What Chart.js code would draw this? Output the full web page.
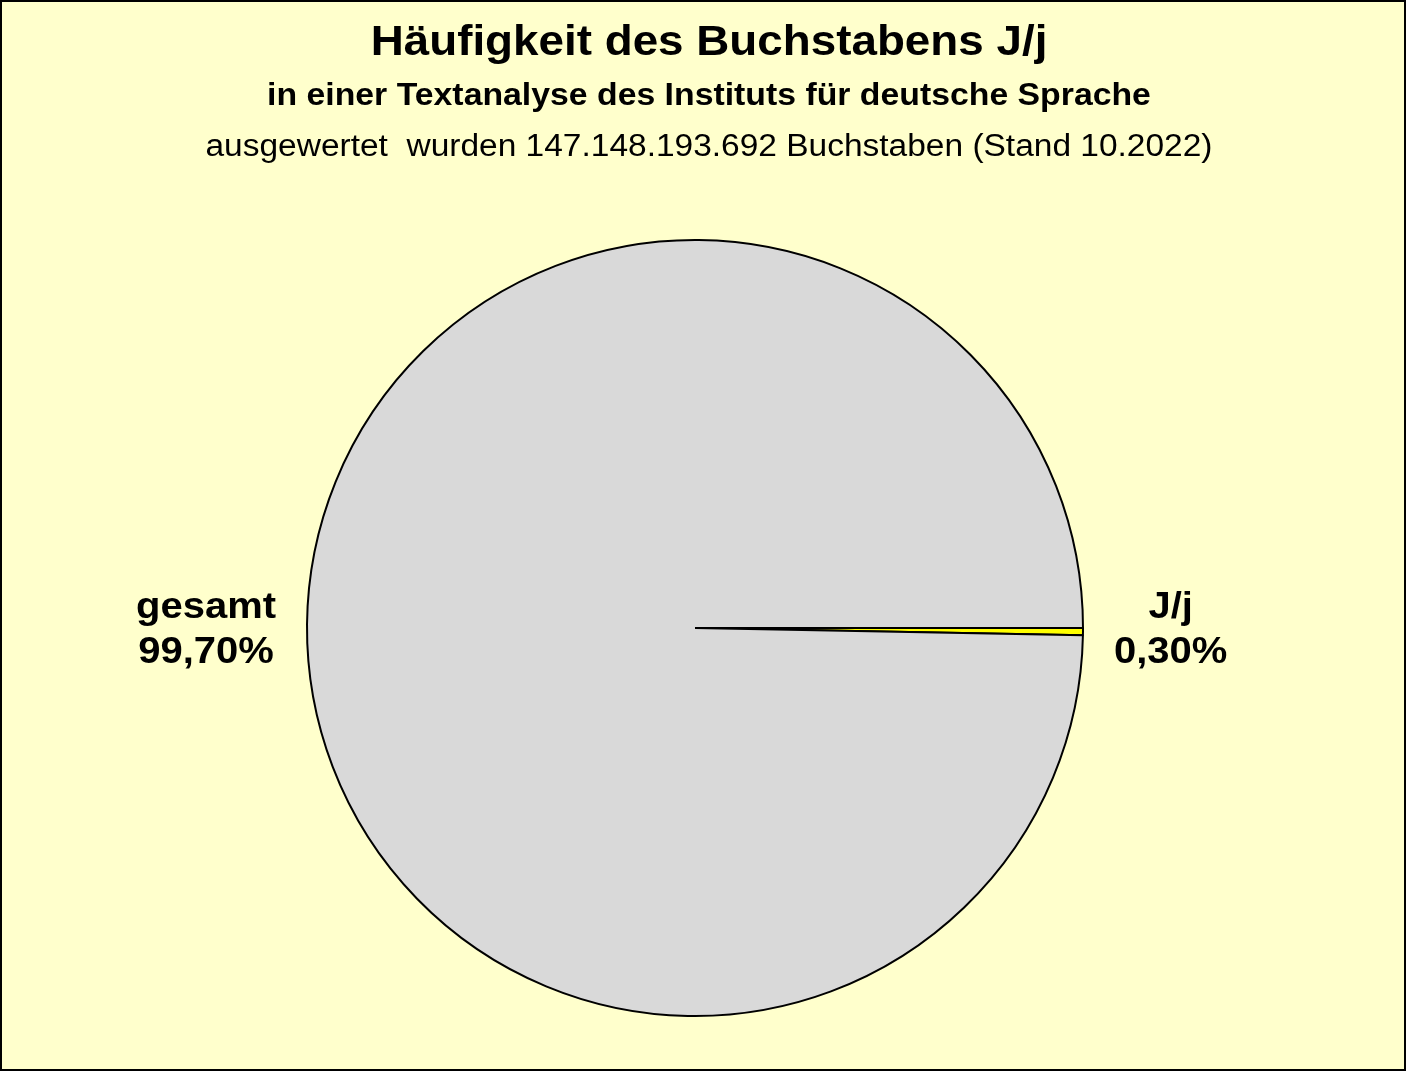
<!DOCTYPE html>
<html><head><meta charset="utf-8">
<script src="https://cdn.jsdelivr.net/npm/chart.js@4/dist/chart.umd.min.js"></script>
<style>html,body{margin:0;padding:0;background:#FFFFCC;}canvas{display:block;}</style>
</head><body>
<canvas id="c" width="1406" height="1071"></canvas>
<script>
const categories = ['J/j', 'gesamt'];
const values = [0.30, 99.70];
const valueLabels = ['0,30%', '99,70%'];
const titleLines = [
  'Häufigkeit des Buchstabens J/j',
  'in einer Textanalyse des Instituts für deutsche Sprache',
  'ausgewertet  wurden 147.148.193.692 Buchstaben (Stand 10.2022)'
];

const FONT = '"Liberation Sans", Arial, sans-serif';

function stretchText(ctx, text, x, y, sx) {
  ctx.save();
  ctx.translate(x, y);
  ctx.scale(sx, 1);
  ctx.fillText(text, 0, 0);
  ctx.restore();
}

const bgPlugin = {
  id: 'bg',
  beforeDraw(chart) {
    const ctx = chart.ctx;
    ctx.save();
    ctx.fillStyle = '#FFFFCC';
    ctx.fillRect(0, 0, chart.width, chart.height);
    ctx.restore();
  },
  afterDraw(chart) {
    const ctx = chart.ctx;
    ctx.save();
    ctx.strokeStyle = '#000';
    ctx.lineWidth = 2;
    ctx.strokeRect(1, 1, chart.width - 2, chart.height - 2);
    ctx.restore();
  }
};

const titlePlugin = {
  id: 'titles',
  afterDraw(chart) {
    const ctx = chart.ctx;
    const cx = 709;
    ctx.save();
    ctx.fillStyle = '#000';
    ctx.textAlign = 'center';
    ctx.textBaseline = 'alphabetic';
    ctx.font = 'bold 42px ' + FONT;
    stretchText(ctx, titleLines[0], cx, 55, 1.09);
    ctx.font = 'bold 31px ' + FONT;
    stretchText(ctx, titleLines[1], cx, 105, 1.09);
    ctx.font = '31px ' + FONT;
    stretchText(ctx, titleLines[2], cx, 156, 1.08);
    ctx.restore();
  }
};

const labelPlugin = {
  id: 'sliceLabels',
  afterDatasetsDraw(chart) {
    const ctx = chart.ctx;
    const meta = chart.getDatasetMeta(0);
    const sx = 1.08;
    ctx.save();
    ctx.fillStyle = '#000';
    ctx.font = 'bold 37px ' + FONT;
    ctx.textAlign = 'center';
    ctx.textBaseline = 'alphabetic';
    meta.data.forEach((arc, i) => {
      const p = arc.getProps(['x', 'y', 'startAngle', 'endAngle', 'outerRadius'], true);
      const mid = (p.startAngle + p.endAngle) / 2;
      const r = p.outerRadius + 31;
      const ax = p.x + Math.cos(mid) * r;
      const ay = p.y;
      const lines = [categories[i], valueLabels[i]];
      const w = Math.max(...lines.map(l => ctx.measureText(l).width)) * sx;
      const tx = Math.cos(mid) >= 0 ? ax + w / 2 : ax - w / 2;
      const offs = [-10, 35];
      lines.forEach((l, k) => {
        stretchText(ctx, l, tx, ay + offs[k], sx);
      });
    });
    ctx.restore();
  }
};

new Chart(document.getElementById('c'), {
  type: 'pie',
  data: {
    labels: categories,
    datasets: [{
      data: values,
      backgroundColor: ['#FFFF00', '#D9D9D9'],
      borderColor: '#000000',
      borderWidth: 2
    }]
  },
  options: {
    responsive: false,
    animation: false,
    rotation: 90,
    layout: { padding: { top: 239, bottom: 54, left: 0, right: 16 } },
    plugins: {
      legend: { display: false },
      title: { display: false },
      tooltip: { enabled: false }
    }
  },
  plugins: [bgPlugin, titlePlugin, labelPlugin]
});
</script>
</body></html>
